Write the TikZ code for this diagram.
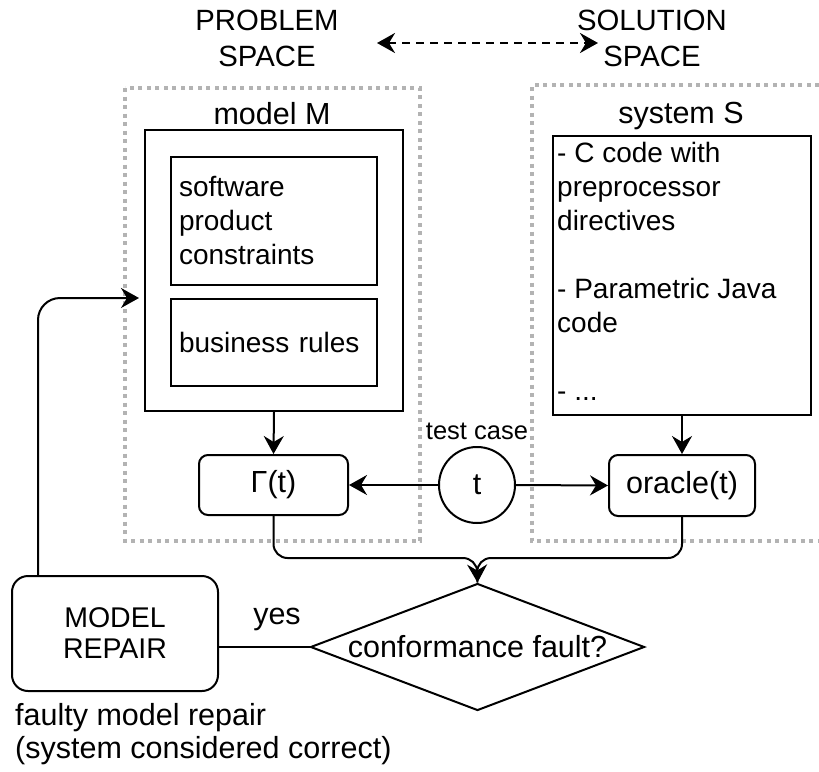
\documentclass[tikz,border=0pt]{standalone}
\usepackage{fontspec}
\setmainfont{Liberation Sans}
\usetikzlibrary{shapes.geometric,arrows.meta}
\definecolor{dotgray}{HTML}{B3B3B3}
\begin{document}
\begin{tikzpicture}[x=1pt,y=-1pt,
  every node/.style={font=\fontsize{28}{34}\selectfont},
  big/.style={font=\fontsize{30.5}{34}\selectfont},
  box/.style={draw,line width=2pt,inner sep=0pt},
  rbox/.style={draw,line width=2pt,rounded corners=9pt,inner sep=0pt},
  conn/.style={line width=2pt},
  arr/.style={line width=2pt,-{Stealth[length=18pt,width=20pt,inset=6pt]}},
  darr/.style={line width=2.5pt,dash pattern=on 8pt off 6pt,{Stealth[length=18pt,width=20pt,inset=6pt]}-{Stealth[length=18pt,width=20pt,inset=6pt]}},
  dotbox/.style={draw=dotgray,line width=4pt,dash pattern=on 4pt off 4.5pt},
  lbl/.style={inner sep=0pt}]
\useasboundingbox (0,0) rectangle (819,771);

% space labels
\node[lbl,align=center,font=\fontsize{29.3}{36}\selectfont] (prob) at (267,38) {PROBLEM\\SPACE};
\node[lbl,align=center,font=\fontsize{29.3}{36}\selectfont] (sol) at (652,38) {SOLUTION\\SPACE};
\coordinate (da) at (377,43);
\coordinate (db) at (598,43);
\draw[darr] (da) -- (db);

% dotted regions
\draw[dotbox] (125,88) rectangle (420,541);
\draw[dotbox] (819,85) -- (532,85) -- (532,541) -- (819,541);

% model
\node[lbl,big] (mlabel) at (272,114) {model M};
\node[box,minimum width=258pt,minimum height=281pt] (model) at (274,270.5) {};
\node[box,minimum width=206pt,minimum height=128pt,text width=190pt,align=left] (spc) at (274,221) {software\\product\\constraints};
\node[box,minimum width=206pt,minimum height=87pt,text width=190pt,align=left] (br) at (274,342.5) {business rules};

% system
\node[lbl,big] (slabel) at (681,116) {system S};
\node[box,minimum width=258pt,minimum height=279pt] (sys) at (682,275.5) {};
\node[lbl,anchor=north west,align=left] (stext) at (557,142) {- C code with\\preprocessor\\directives\\[34pt]- Parametric Java\\code\\[34pt]- ...};

% middle row
\node[rbox,big,minimum width=149pt,minimum height=60pt] (gamma) at (273.5,485) {Γ(t)};
\node[rbox,big,minimum width=146pt,minimum height=61pt] (oracle) at (682,485.5) {oracle(t)};
\node[draw,circle,big,line width=2pt,minimum size=76pt,inner sep=0pt] (t) at (477,485) {t};
\node[lbl,font=\fontsize{25.5}{30}\selectfont] (tc) at (477,431) {test case};

% decision
\node[draw,diamond,big,line width=2pt,minimum width=334pt,minimum height=127pt,inner sep=0pt,aspect=2.6] (dia) at (477.5,647) {conformance fault?};
\node[rbox,rounded corners=16pt,minimum width=206pt,minimum height=115pt,align=center,font=\fontsize{28.5}{31}\selectfont] (repair) at (115,633.5) {MODEL\\REPAIR};
\node[lbl,big] (yes) at (277,619) {yes};
\node[lbl,anchor=north west,align=left,font=\fontsize{30.5}{33}\selectfont] (faulty) at (15,703) {faulty model repair\\(system considered correct)};

% connectors
\draw[arr] (model.south) -- (gamma.north);
\draw[arr] (sys.south) -- (oracle.north);
\draw[arr] (t.west) -- (gamma.east);
\draw[arr] (t.east) -- (oracle.west);
\coordinate (m) at (477,558);
\draw[conn,rounded corners=14pt] (gamma.south) |- (m) -- (dia.north);
\draw[arr,rounded corners=14pt] (oracle.south) |- (m) -- (dia.north);
\draw[conn] (dia.west) -- (dia.west -| repair.east);
\draw[arr,rounded corners=22pt] (repair.north -| 38,0) |- ([xshift=-5pt]model.west |- 0,298);
\end{tikzpicture}
\end{document}
